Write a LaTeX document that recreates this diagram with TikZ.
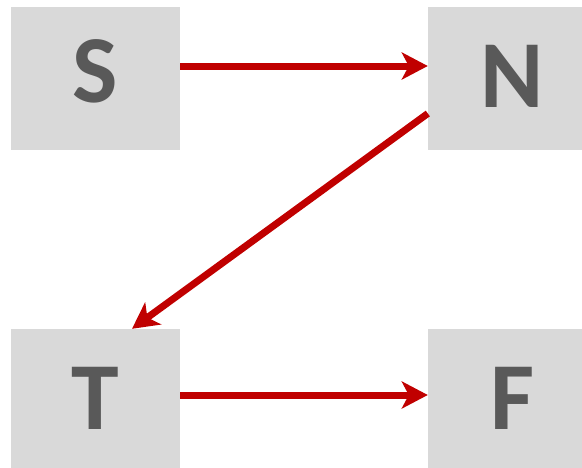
\documentclass[tikz,border=0pt]{standalone}
\usepackage{fontspec}
\setmainfont{Carlito}
\usetikzlibrary{arrows.meta}
\definecolor{boxgray}{HTML}{D9D9D9}
\definecolor{lettergray}{HTML}{595959}
\definecolor{arrowred}{HTML}{C00000}
\tikzset{
  stagebox/.style={fill=boxgray, draw=none, rectangle, inner sep=0pt,
    minimum width=169pt, minimum height=143pt,
    text=lettergray, font=\fontsize{96}{98}\selectfont\bfseries,
    text height=61pt, text depth=2.5pt},
  flow/.style={draw=arrowred, line width=7pt,
    -{Stealth[length=26pt, width=27pt, inset=7pt]}}
}
\begin{document}
\begin{tikzpicture}[x=1pt, y=-1pt]
\useasboundingbox (0,0) rectangle (582,467);
\begin{scope}
\clip (0,0) rectangle (582,467);
\node[stagebox, text depth=13pt] (S) at (95.5,78.5) {S};
\node[stagebox] (N) at (512.5,78.5) {N};
\node[stagebox] (T) at (95.5,400.5) {T};
\node[stagebox] (F) at (512.5,400.5) {F};
\end{scope}
\draw[flow] ([yshift=12.5pt]S.east) -- ([yshift=12.5pt]N.west);
\draw[flow] ([yshift=-35pt]N.west) -- ([xshift=36.5pt]T.north);
\draw[flow] ([yshift=5.5pt]T.east) -- ([yshift=5.5pt]F.west);
\end{tikzpicture}
\end{document}
